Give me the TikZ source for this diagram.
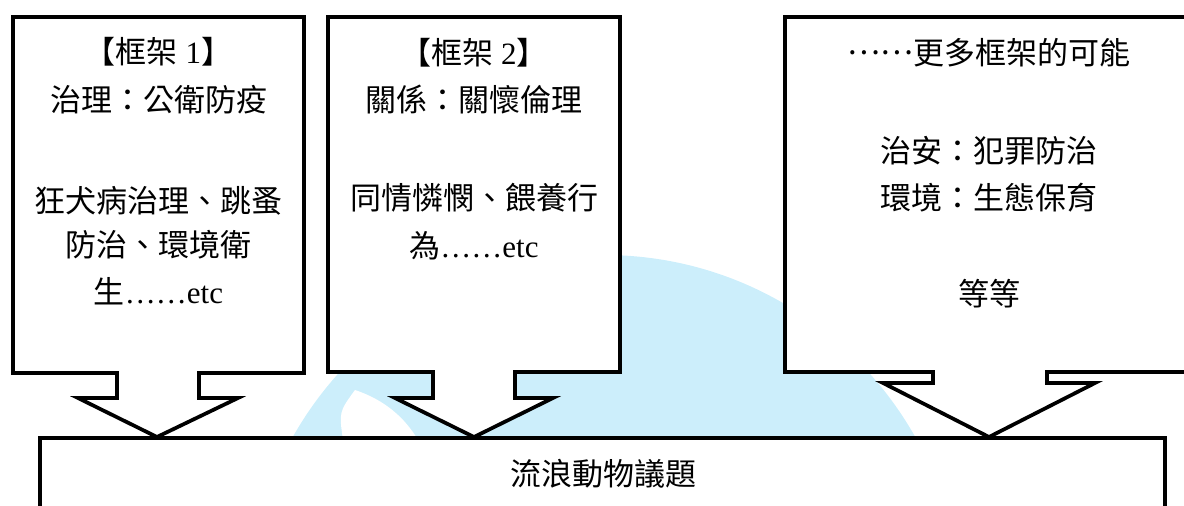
\documentclass[tikz,border=0pt]{standalone}
\usepackage{fontspec}
\setmainfont{Liberation Serif}
\newfontfamily\zhfont{Noto Sans CJK TC}
\newfontfamily\latinfont{Liberation Serif}
\newcommand\lat[1]{{\latinfont #1}}
\definecolor{wmblue}{RGB}{204,238,251}
\begin{document}
\begin{tikzpicture}[x=0.75pt,y=-0.75pt,
  callout/.style={draw=black, fill=white, line width=2.8pt, line join=miter},
  txt/.style={font=\zhfont\fontsize{23.25pt}{28pt}\selectfont, inner sep=0pt, anchor=base, text=black}]
\useasboundingbox (0,0) rectangle (1184,506);
\clip (0,0) rectangle (1184,506);
% faint background mark
\fill[wmblue] (604,612) circle [radius=267.75pt];
\fill[white] (343,440) .. controls (339,412) .. (355,390) .. controls (385,400) and (405,418) .. (418,440) -- cycle;
% frame 1
\draw[callout] (13,17) -- (304,17) -- (304,373) -- (199,373) -- (199,398) -- (238,398)
  -- (157,437) -- (78,398) -- (117,398) -- (117,373) -- (13,373) -- cycle;
% frame 2
\draw[callout] (328,17) -- (620,17) -- (620,372) -- (515,372) -- (515,398) -- (553,398)
  -- (474,437) -- (395,398) -- (433,398) -- (433,372) -- (328,372) -- cycle;
% frame 3
\draw[callout] (785,17) -- (1193,17) -- (1193,372) -- (1047,372) -- (1047,383) -- (1095,383)
  -- (989,437) -- (883,383) -- (933,383) -- (933,372) -- (785,372) -- cycle;
% bottom box
\draw[callout] (40,438) rectangle (1165,530);
% texts
\node[txt] (f1a) at (158.5,64) {【框架\lat{~1}】};
\node[txt] (f1b) at (158.5,112) {治理：公衛防疫};
\node[txt] (f1c) at (158.5,212) {狂犬病治理、跳蚤};
\node[txt] (f1d) at (158.5,256) {防治、環境衛};
\node[txt] (f1e) at (158.5,303) {生\lat{……etc}};
\node[txt] (f2a) at (474,65) {【框架\lat{~2}】};
\node[txt] (f2b) at (474,112) {關係：關懷倫理};
\node[txt] (f2c) at (474,209) {同情憐憫、餵養行};
\node[txt] (f2d) at (474,257) {為\lat{……etc}};
\node[txt] (f3a) at (989,65) {\raisebox{0.33em}{……}更多框架的可能};
\node[txt] (f3b) at (989,162) {治安：犯罪防治};
\node[txt] (f3c) at (989,209) {環境：生態保育};
\node[txt] (f3d) at (989,305) {等等};
\node[txt] (issue) at (603,485) {流浪動物議題};
\end{tikzpicture}
\end{document}
